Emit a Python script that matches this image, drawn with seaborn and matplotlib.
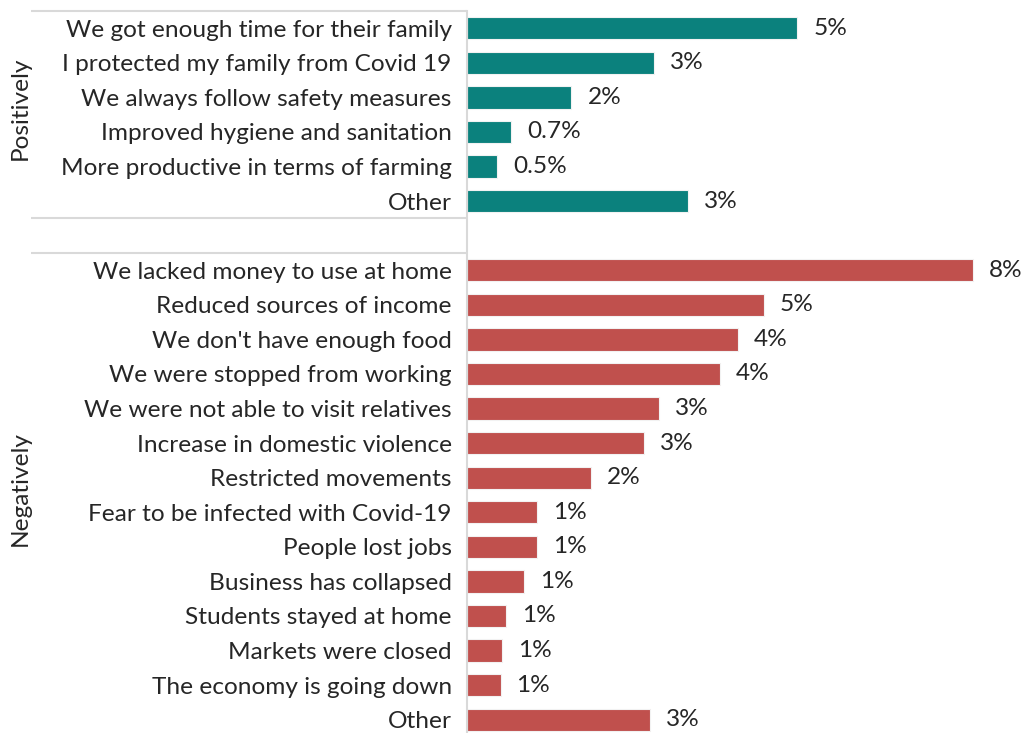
import matplotlib
matplotlib.use("Agg")
import matplotlib.pyplot as plt
import matplotlib.transforms as mtransforms
import seaborn as sns
import pandas as pd

# Share of respondents (%) by how Covid-19 affected their household
positive_labels = [
    "We got enough time for their family",
    "I protected my family from Covid 19",
    "We always follow safety measures",
    "Improved hygiene and sanitation",
    "More productive in terms of farming",
    "Other",
]
positive_values = [5.12, 2.90, 1.62, 0.68, 0.47, 3.42]

negative_labels = [
    "We lacked money to use at home",
    "Reduced sources of income",
    "We don't have enough food",
    "We were stopped from working",
    "We were not able to visit relatives",
    "Increase in domestic violence",
    "Restricted movements",
    "Fear to be infected with Covid-19",
    "People lost jobs",
    "Business has collapsed",
    "Students stayed at home",
    "Markets were closed",
    "The economy is going down",
    "Other",
]
negative_values = [7.84, 4.60, 4.20, 3.92, 2.97, 2.74, 1.92,
                   1.09, 1.08, 0.89, 0.61, 0.55, 0.52, 2.84]

group_names = ["Positively", "Negatively"]
group_colors = {"Positively": "#0B817D", "Negatively": "#C0504D"}


def fmt_positive(v):
    return f"{v:.0f}%" if v >= 1 else f"{v:.1f}%"


def fmt_negative(v):
    return f"{v:.0f}%"


# Build one row per bar, with unique keys so the two "Other" rows stay apart
rows = []
for i, (lab, v) in enumerate(zip(positive_labels, positive_values)):
    rows.append({"key": f"p{i}", "label": lab, "value": v,
                 "group": "Positively", "text": fmt_positive(v)})
for i, (lab, v) in enumerate(zip(negative_labels, negative_values)):
    rows.append({"key": f"n{i}", "label": lab, "value": v,
                 "group": "Negatively", "text": fmt_negative(v)})
df = pd.DataFrame(rows)

gap_key = "gap"
order = [f"p{i}" for i in range(len(positive_labels))] + [gap_key] + \
        [f"n{i}" for i in range(len(negative_labels))]
label_for = dict(zip(df["key"], df["label"]))
label_for[gap_key] = ""

sns.set_theme(style="white")
plt.rcParams["font.family"] = ["Lato", "DejaVu Sans"]

W, H = 1023, 733
fig = plt.figure(figsize=(W / 100, H / 100), dpi=100)
ax_left, ax_right = 467, 1013
ax_top, ax_bottom = 11, 737
ax = fig.add_axes([ax_left / W, 1 - ax_bottom / H,
                   (ax_right - ax_left) / W, (ax_bottom - ax_top) / H])

sns.barplot(data=df, x="value", y="key", hue="group", order=order,
            hue_order=group_names, palette=group_colors, dodge=False,
            saturation=1, width=0.645, orient="h", legend=False, ax=ax,
            edgecolor="#F2F2F2", linewidth=0.8)

ax.set_xlim(0, (ax_right - ax_left) / 64.5)
ax.set_ylim(len(order) - 0.5, -0.5)
ax.set_xlabel("")
ax.set_ylabel("")
ax.set_xticks([])

text_color = "#262626"
fs = 17.6
ax.set_yticks(range(len(order)))
ax.set_yticklabels([label_for[k] for k in order], fontsize=fs, color=text_color)
ax.tick_params(axis="y", length=0, pad=11)

for s in ["top", "right", "bottom"]:
    ax.spines[s].set_visible(False)
ax.spines["left"].set_color("#D9D9D9")
ax.spines["left"].set_linewidth(1.5)

# Value labels to the right of each bar
pos = {k: i for i, k in enumerate(order)}
for _, r in df.iterrows():
    ax.annotate(r["text"], xy=(r["value"], pos[r["key"]]), xytext=(11.5, 0),
                textcoords="offset points", va="center", ha="left",
                fontsize=fs, color=text_color, annotation_clip=False)

# Group separators across the category-label column
trans = mtransforms.blended_transform_factory(ax.transAxes, ax.transData)
x0 = (31 - ax_left) / (ax_right - ax_left)
n_pos = len(positive_labels)
for yb in [-0.5, n_pos - 0.5, n_pos + 0.5, len(order) - 0.5]:
    ax.plot([x0, 0], [yb, yb], transform=trans, color="#D9D9D9",
            linewidth=1.5, clip_on=False, solid_capstyle="butt")

# Rotated group names
xg = (20 - ax_left) / (ax_right - ax_left)
spans = {"Positively": (-0.5, n_pos - 0.5),
         "Negatively": (n_pos + 0.5, len(order) - 0.5)}
for g, (a, b) in spans.items():
    ax.text(xg, (a + b) / 2 - 0.2, g, transform=trans, rotation=90,
            ha="center", va="center", fontsize=fs, color=text_color)

fig.savefig("out.png", dpi=100)
